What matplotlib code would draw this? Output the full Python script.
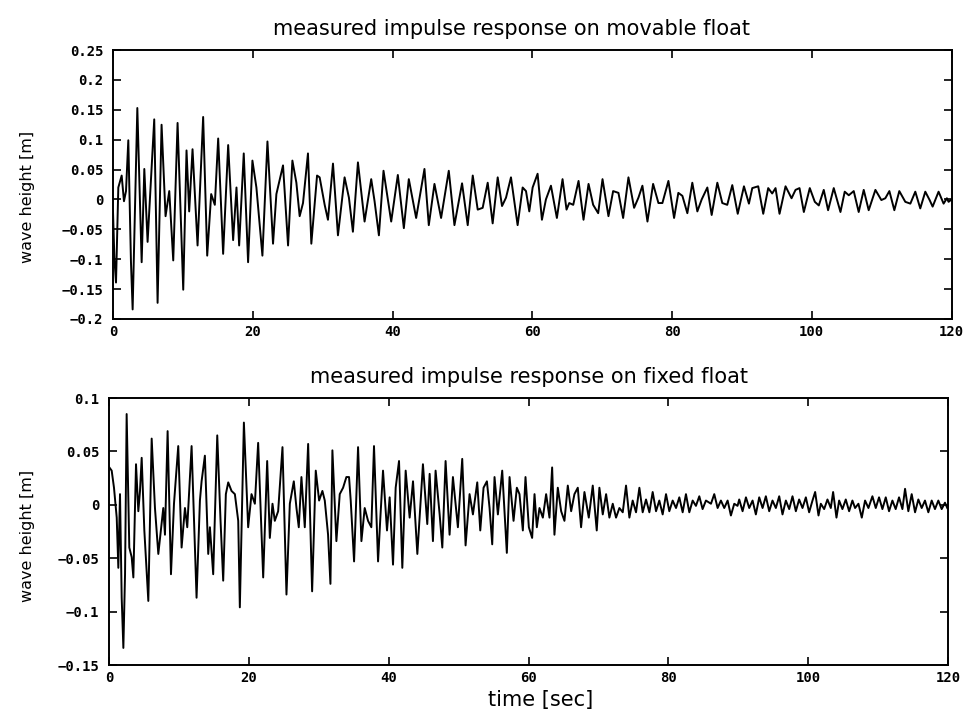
import matplotlib
matplotlib.use("Agg")
import matplotlib.pyplot as plt

# ---------------- data ----------------
# movable float: times [s] and wave heights [m] at turning points
t_movable = [0.0, 0.2, 0.43, 0.76, 1.24, 1.57, 1.86, 2.19, 2.57, 2.81, 3.48, 4.10, 4.48, 4.95,
             5.90, 6.38, 6.95, 7.52, 8.05, 8.62, 9.24, 10.05, 10.52, 10.9, 11.38, 12.1, 12.9,
             13.48, 14.05, 14.57, 15.05, 15.76, 16.48, 17.19, 17.67, 18.05, 18.71, 19.33, 19.95,
             20.52, 21.38, 22.1, 22.9, 23.38, 24.33, 25.05, 25.67, 26.24, 26.71, 27.19, 27.9,
             28.38, 29.2, 29.57, 30.29, 30.76, 31.48, 32.19, 33.14, 33.76, 34.33, 35.05, 36.0,
             36.95, 37.43, 38.05, 38.71, 39.81, 40.76, 41.62, 42.33, 43.38, 44.57, 45.19, 46.0,
             46.95, 48.05, 48.86, 49.95, 50.76, 51.48, 52.19, 52.9, 53.62, 54.33, 55.05, 55.67,
             56.24, 56.95, 57.9, 58.62, 59.1, 59.57, 60.05, 60.76, 61.38, 61.95, 62.67, 63.52,
             64.33, 64.9, 65.29, 65.86, 66.62, 67.33, 68.05, 68.71, 69.43, 70.05, 70.9, 71.57,
             72.33, 73.0, 73.76, 74.57, 75.19, 75.76, 76.48, 77.29, 78.05, 78.62, 79.48, 80.29,
             80.9, 81.48, 82.19, 82.9, 83.62, 84.24, 85.05, 85.67, 86.48, 87.19, 87.9, 88.62,
             89.4, 90.29, 91.0, 91.48, 92.33, 93.05, 93.76, 94.33, 94.81, 95.38, 96.24, 97.1,
             97.67, 98.24, 98.86, 99.71, 100.43, 101.0, 101.71, 102.33, 103.14, 104.1, 104.71,
             105.29, 106.0, 106.71, 107.43, 108.14, 109.1, 109.95, 110.52, 111.1, 111.81, 112.52,
             113.38, 114.1, 114.81, 115.52, 116.24, 116.86, 117.29, 118.14, 118.86, 119.33,
             119.57, 120.0]
h_movable = [-0.02, -0.10, -0.139, 0.020, 0.040, -0.003, 0.014, 0.099, -0.105, -0.184, 0.153,
             -0.105, 0.051, -0.071, 0.134, -0.173, 0.125, -0.028, 0.014, -0.102, 0.128, -0.151,
             0.082, -0.020, 0.084, -0.077, 0.138, -0.094, 0.009, -0.009, 0.102, -0.091, 0.091,
             -0.068, 0.020, -0.077, 0.077, -0.105, 0.065, 0.020, -0.094, 0.097, -0.074, 0.009,
             0.057, -0.077, 0.065, 0.028, -0.028, -0.006, 0.077, -0.074, 0.040, 0.037, -0.009,
             -0.034, 0.060, -0.060, 0.037, 0.003, -0.054, 0.062, -0.037, 0.034, -0.003, -0.060,
             0.048, -0.037, 0.041, -0.048, 0.034, -0.031, 0.051, -0.043, 0.026, -0.031, 0.048,
             -0.043, 0.027, -0.043, 0.040, -0.017, -0.014, 0.028, -0.040, 0.037, -0.011, 0.003,
             0.037, -0.043, 0.020, 0.014, -0.020, 0.020, 0.043, -0.034, 0.0, 0.023, -0.031,
             0.034, -0.017, -0.006, -0.009, 0.031, -0.034, 0.026, -0.009, -0.023, 0.034, -0.028,
             0.014, 0.011, -0.031, 0.037, -0.014, 0.003, 0.023, -0.037, 0.026, -0.006, -0.006,
             0.031, -0.031, 0.011, 0.006, -0.023, 0.028, -0.020, 0.0, 0.020, -0.026, 0.028,
             -0.006, -0.009, 0.024, -0.024, 0.022, -0.007, 0.019, 0.022, -0.024, 0.019, 0.010,
             0.019, -0.024, 0.022, 0.002, 0.016, 0.019, -0.021, 0.019, -0.004, -0.010, 0.016,
             -0.018, 0.019, -0.021, 0.013, 0.007, 0.014, -0.021, 0.016, -0.018, 0.016, -0.001,
             0.002, 0.014, -0.018, 0.014, -0.004, -0.007, 0.013, -0.015, 0.013, -0.001, -0.012,
             0.013, -0.007, 0.002, -0.004, 0.0]

# fixed float
t_fixed = [0.05, 0.38, 0.71, 1.1, 1.33, 1.57, 1.81, 2.05, 2.29, 2.52, 2.9, 3.24, 3.48, 3.86,
           4.19, 4.43, 4.67, 5.05, 5.62, 6.1, 6.57, 7.05, 7.76, 8.0, 8.38, 8.86, 9.29, 9.9,
           10.38, 10.86, 11.19, 11.81, 12.52, 13.0, 13.24, 13.71, 14.19, 14.43, 14.9, 15.48,
           15.95, 16.33, 16.71, 17.05, 17.52, 18.0, 18.48, 18.71, 19.29, 19.9, 20.38, 20.86,
           21.33, 22.05, 22.62, 23.0, 23.38, 23.71, 24.19, 24.81, 25.38, 25.86, 26.43, 26.81,
           27.14, 27.52, 28.0, 28.48, 29.05, 29.57, 30.05, 30.52, 30.86, 31.33, 31.67, 31.95,
           32.52, 33.0, 33.48, 33.95, 34.33, 34.57, 35.05, 35.62, 36.1, 36.57, 37.05, 37.52,
           37.9, 38.48, 38.81, 39.19, 39.76, 40.14, 40.62, 41.0, 41.48, 41.95, 42.43, 43.0,
           43.48, 44.1, 44.9, 45.52, 45.86, 46.33, 46.71, 47.29, 47.67, 48.14, 48.71, 49.19,
           49.9, 50.52, 51.0, 51.57, 52.05, 52.67, 53.1, 53.57, 54.05, 54.43, 54.81, 55.14,
           55.62, 56.24, 56.9, 57.29, 57.86, 58.33, 58.71, 59.19, 59.57, 60.05, 60.52, 60.86,
           61.19, 61.57, 62.05, 62.52, 63.0, 63.38, 63.71, 64.19, 64.67, 65.14, 65.62, 66.1,
           66.57, 67.05, 67.52, 68.0, 68.62, 69.19, 69.76, 70.14, 70.62, 71.1, 71.57, 72.05,
           72.52, 73.0, 73.48, 73.95, 74.43, 74.9, 75.38, 75.86, 76.33, 76.81, 77.29, 77.76,
           78.24, 78.71, 79.19, 79.67, 80.14, 80.62, 81.1, 81.57, 82.05, 82.52, 83.0, 83.48,
           83.95, 84.43, 84.9, 85.38, 86.1, 86.57, 87.05, 87.52, 88.0, 88.48, 88.95, 89.43,
           89.9, 90.14, 90.62, 91.1, 91.57, 92.05, 92.52, 93.0, 93.48, 93.95, 94.43, 94.9,
           95.38, 95.86, 96.33, 96.81, 97.29, 97.76, 98.24, 98.71, 99.19, 99.67, 100.14,
           100.62, 101.0, 101.48, 101.81, 102.29, 102.76, 103.24, 103.57, 104.05, 104.43,
           104.9, 105.38, 105.86, 106.33, 106.71, 107.19, 107.67, 108.14, 108.62, 109.19,
           109.67, 110.14, 110.62, 111.1, 111.57, 112.05, 112.52, 113.0, 113.48, 113.86,
           114.33, 114.81, 115.29, 115.76, 116.24, 116.71, 117.19, 117.67, 118.14, 118.62,
           119.1, 119.57, 119.9]
h_fixed = [0.035, 0.032, 0.016, -0.012, -0.059, 0.010, -0.087, -0.134, -0.065, 0.085, -0.040,
           -0.049, -0.068, 0.038, -0.006, 0.013, 0.044, -0.024, -0.090, 0.062, -0.003, -0.046,
           -0.003, -0.028, 0.069, -0.065, 0.001, 0.055, -0.040, -0.003, -0.021, 0.055, -0.087,
           0.004, 0.022, 0.046, -0.046, -0.021, -0.065, 0.065, -0.015, -0.071, 0.010, 0.021,
           0.013, 0.010, -0.015, -0.096, 0.077, -0.021, 0.010, 0.001, 0.058, -0.068, 0.041,
           -0.031, 0.001, -0.015, -0.006, 0.054, -0.084, 0.001, 0.022, -0.003, -0.021, 0.026,
           -0.021, 0.057, -0.081, 0.032, 0.004, 0.013, 0.004, -0.028, -0.074, 0.051, -0.034,
           0.010, 0.016, 0.026, 0.026, 0.004, -0.053, 0.054, -0.034, -0.003, -0.015, -0.021,
           0.055, -0.053, -0.012, 0.032, -0.024, 0.007, -0.056, 0.016, 0.041, -0.059, 0.032,
           -0.012, 0.022, -0.046, 0.038, -0.018, 0.029, -0.034, 0.032, -0.009, -0.040, 0.041,
           -0.028, 0.026, -0.021, 0.043, -0.038, 0.010, -0.009, 0.021, -0.024, 0.016, 0.022,
           -0.003, -0.037, 0.026, -0.009, 0.032, -0.045, 0.026, -0.015, 0.016, 0.010, -0.024,
           0.026, -0.021, -0.031, 0.010, -0.021, -0.003, -0.012, 0.010, -0.012, 0.035, -0.028,
           0.016, -0.006, -0.015, 0.018, -0.006, 0.010, 0.016, -0.021, 0.012, -0.012, 0.018,
           -0.024, 0.016, -0.009, 0.010, -0.012, 0.001, -0.012, -0.003, -0.007, 0.018, -0.012,
           0.004, -0.007, 0.016, -0.007, 0.005, -0.007, 0.012, -0.006, 0.004, -0.009, 0.010,
           -0.006, 0.004, -0.003, 0.007, -0.007, 0.010, -0.007, 0.004, -0.001, 0.008, -0.004,
           0.004, 0.001, 0.010, -0.003, 0.004, -0.003, 0.004, -0.010, 0.001, -0.001, 0.005,
           -0.006, 0.007, -0.003, 0.004, -0.009, 0.007, -0.003, 0.008, -0.006, 0.004, -0.003,
           0.008, -0.009, 0.004, -0.004, 0.008, -0.006, 0.005, -0.003, 0.007, -0.007, 0.004,
           0.012, -0.010, 0.001, -0.004, 0.005, -0.003, 0.012, -0.012, 0.004, -0.004, 0.005,
           -0.006, 0.004, -0.003, 0.001, -0.012, 0.004, -0.003, 0.008, -0.003, 0.007, -0.004,
           0.007, -0.006, 0.004, -0.004, 0.007, -0.004, 0.015, -0.006, 0.010, -0.007, 0.005,
           -0.003, 0.004, -0.007, 0.004, -0.004, 0.004, -0.004, 0.002, -0.003]

titles = ["measured impulse response on movable float",
          "measured impulse response on fixed float"]
x_ticks = [0, 20, 40, 60, 80, 100, 120]
y_ticks_top = [-0.2, -0.15, -0.1, -0.05, 0, 0.05, 0.1, 0.15, 0.2, 0.25]
y_labels_top = ["-0.2", "-0.15", "-0.1", "-0.05", "0", "0.05", "0.1", "0.15", "0.2", "0.25"]
y_ticks_bot = [-0.15, -0.1, -0.05, 0, 0.05, 0.1]
y_labels_bot = ["-0.15", "-0.1", "-0.05", "0", "0.05", "0.1"]

# ---------------- figure ----------------
plt.rcParams['font.family'] = ['DejaVu Sans']
fig = plt.figure(figsize=(9.70, 7.23), dpi=100)
ax1 = fig.add_axes([0.1165, 0.5588, 0.8645, 0.3720])
ax2 = fig.add_axes([0.1124, 0.0802, 0.8649, 0.3693])

tick_font = dict(family="DejaVu Sans Mono", size=10, weight="bold")

def style(ax, yt, yl, ylim):
    ax.set_xlim(0, 120)
    ax.set_ylim(*ylim)
    ax.set_xticks(x_ticks)
    ax.set_xticklabels([str(v) for v in x_ticks], fontdict=tick_font)
    ax.set_yticks(yt)
    ax.set_yticklabels([s.replace("-", "\u2212") for s in yl], fontdict=tick_font)
    ax.tick_params(direction="in", length=6, width=1.2, top=True, right=True,
                   labeltop=False, labelright=False)
    ax.tick_params(axis="y", pad=7)
    ax.tick_params(axis="x", pad=4)
    for sp in ax.spines.values():
        sp.set_linewidth(1.4)

ax1.plot(t_movable, h_movable, color="black", lw=1.4)
style(ax1, y_ticks_top, y_labels_top, (-0.2, 0.25))
ax1.set_title(titles[0], fontsize=15, pad=11, x=0.475)
ax1.set_ylabel("wave height [m]", fontsize=11.5)
ax1.yaxis.set_label_coords(-0.093, 0.454)

ax2.plot(t_fixed, h_fixed, color="black", lw=1.4)
style(ax2, y_ticks_bot, y_labels_bot, (-0.15, 0.1))
ax2.set_title(titles[1], fontsize=15, pad=11, x=0.5)
ax2.set_ylabel("wave height [m]", fontsize=11.5)
ax2.yaxis.set_label_coords(-0.088, 0.483)
ax2.set_xlabel("time [sec]", fontsize=15)
ax2.xaxis.set_label_coords(0.515, -0.095)

fig.savefig("out.png", dpi=100)
